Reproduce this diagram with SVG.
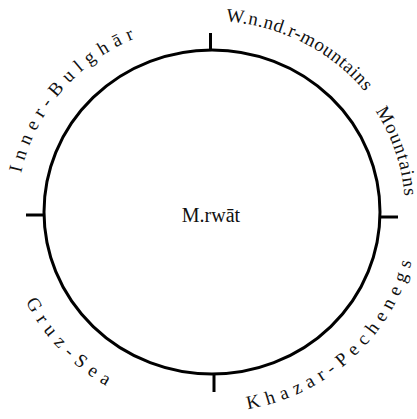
<svg xmlns="http://www.w3.org/2000/svg" width="417" height="419" viewBox="0 0 417 419">
  <style>
    .ring { fill: none; stroke: #000; stroke-width: 3; }
    .tick { stroke: #000; stroke-width: 3; fill: none; }
    .lbl { font-family: "Liberation Serif", "Times New Roman", serif; font-size: 19px; fill: #111; }
    .center { font-family: "Liberation Serif", "Times New Roman", serif; font-size: 20px; fill: #111; }
  </style>
  <defs>
    <path id="pTopRight" d="M 225.7 21.5 A 197 191 0 0 1 406 245.2"/>
    <path id="pRight" d="M 375.3 111 A 193 187 0 0 1 402 244.5"/>
    <path id="pTopLeft" d="M 21.1 173.3 A 195 189 0 0 1 178.1 25.9"/>
    <path id="pBottomRight" d="M 247.8 409 A 206 200 0 0 0 418 212"/>
    <path id="pBottomLeft" d="M 25.7 301.8 A 208 202 0 0 0 175.9 410.9"/>
  </defs>

  <g id="ring">
    <ellipse class="ring" cx="212" cy="212" rx="168" ry="162"/>
  </g>

  <g id="ticks">
    <line class="tick" x1="210.5" y1="33" x2="210.5" y2="50"/>
    <line class="tick" x1="214" y1="374" x2="214" y2="392"/>
    <line class="tick" x1="26" y1="215" x2="44" y2="215"/>
    <line class="tick" x1="380" y1="217" x2="398" y2="217"/>
  </g>

  <g id="center-label">
    <text class="center" x="211" y="222" text-anchor="middle">M.rwāt</text>
  </g>

  <g id="label-wnndr">
    <text class="lbl" letter-spacing="0.55"><textPath href="#pTopRight">W.n.nd.r-mountains</textPath></text>
  </g>

  <g id="label-mountains">
    <text class="lbl" letter-spacing="1.2"><textPath href="#pRight">Mountains</textPath></text>
  </g>

  <g id="label-inner-bulghar">
    <text class="lbl" letter-spacing="6.3"><textPath href="#pTopLeft">Inner-Bulghār</textPath></text>
  </g>

  <g id="label-khazar">
    <text class="lbl" letter-spacing="6.1"><textPath href="#pBottomRight">Khazar-Pechenegs</textPath></text>
  </g>

  <g id="label-gruz">
    <text class="lbl" letter-spacing="6.6"><textPath href="#pBottomLeft">Gruz-Sea</textPath></text>
  </g>
</svg>
